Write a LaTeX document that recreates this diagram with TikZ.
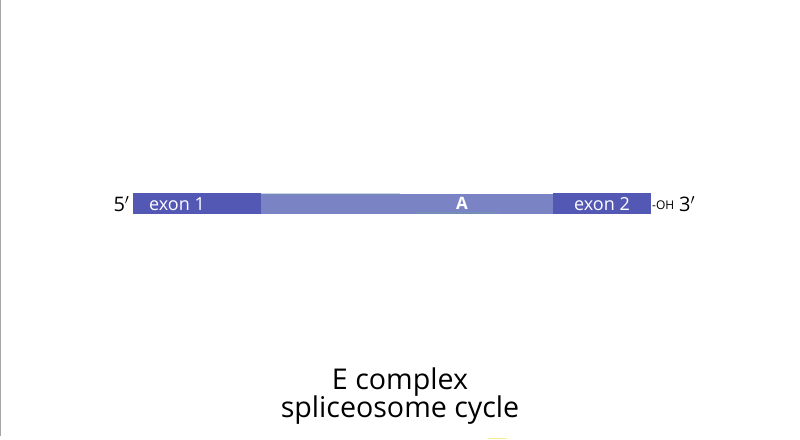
\documentclass[tikz,border=0pt]{standalone}
\usepackage{fontspec}
\setmainfont{Open Sans}
\definecolor{exoncol}{RGB}{84,88,181}
\definecolor{introncol}{RGB}{122,132,196}
\definecolor{tealish}{RGB}{112,150,180}
\definecolor{paleyellow}{RGB}{250,235,150}
\begin{document}
\begin{tikzpicture}[x=1pt,y=-1pt,
  exonbox/.style={fill=exoncol,draw=none},
  intronbox/.style={fill=introncol,draw=none},
  lbl/.style={text=white,font=\fontsize{18}{18}\selectfont,inner sep=0pt},
  endlbl/.style={text=black,font=\fontsize{20}{20}\selectfont,inner sep=0pt},
  title/.style={text=black,font=\fontsize{28.6}{30}\selectfont,align=center,inner sep=0pt}]
\useasboundingbox[fill=white] (0,0) rectangle (800,439);
\draw[gray!70,line width=1.2pt] (0.6,0) -- (0.6,436);
% intron
\fill[intronbox] (261,193.5) rectangle (553,213.5);
\fill[tealish,opacity=0.6] (415,211.5) rectangle (498,214);
\fill[tealish,opacity=0.4] (215,193) rectangle (400,194.5);
% exons
\fill[exonbox] (133,193) rectangle (261,214);
\fill[exonbox] (553,193) rectangle (651,214);
\node[lbl] (e1) at (177,204) {exon 1};
\node[lbl] (e2) at (602,204) {exon 2};
\node[text=white,font=\bfseries\fontsize{17}{17}\selectfont,inner sep=0pt] (A) at (462,203.5) {A};
\node[endlbl] (five) at (121.5,204) {5$'$};
\node[inner sep=0pt,anchor=west,font=\fontsize{12}{12}\selectfont] (oh) at (652,205) {-OH};
\node[endlbl,anchor=west] (three) at (679,204) {3$'$};
\node[title] (t1) at (400,382) {E complex};
\node[title] (t2) at (400,410) {spliceosome cycle};
\draw[paleyellow,line width=1.2pt] (488,438.2) -- (507,438.2);
\end{tikzpicture}
\end{document}
